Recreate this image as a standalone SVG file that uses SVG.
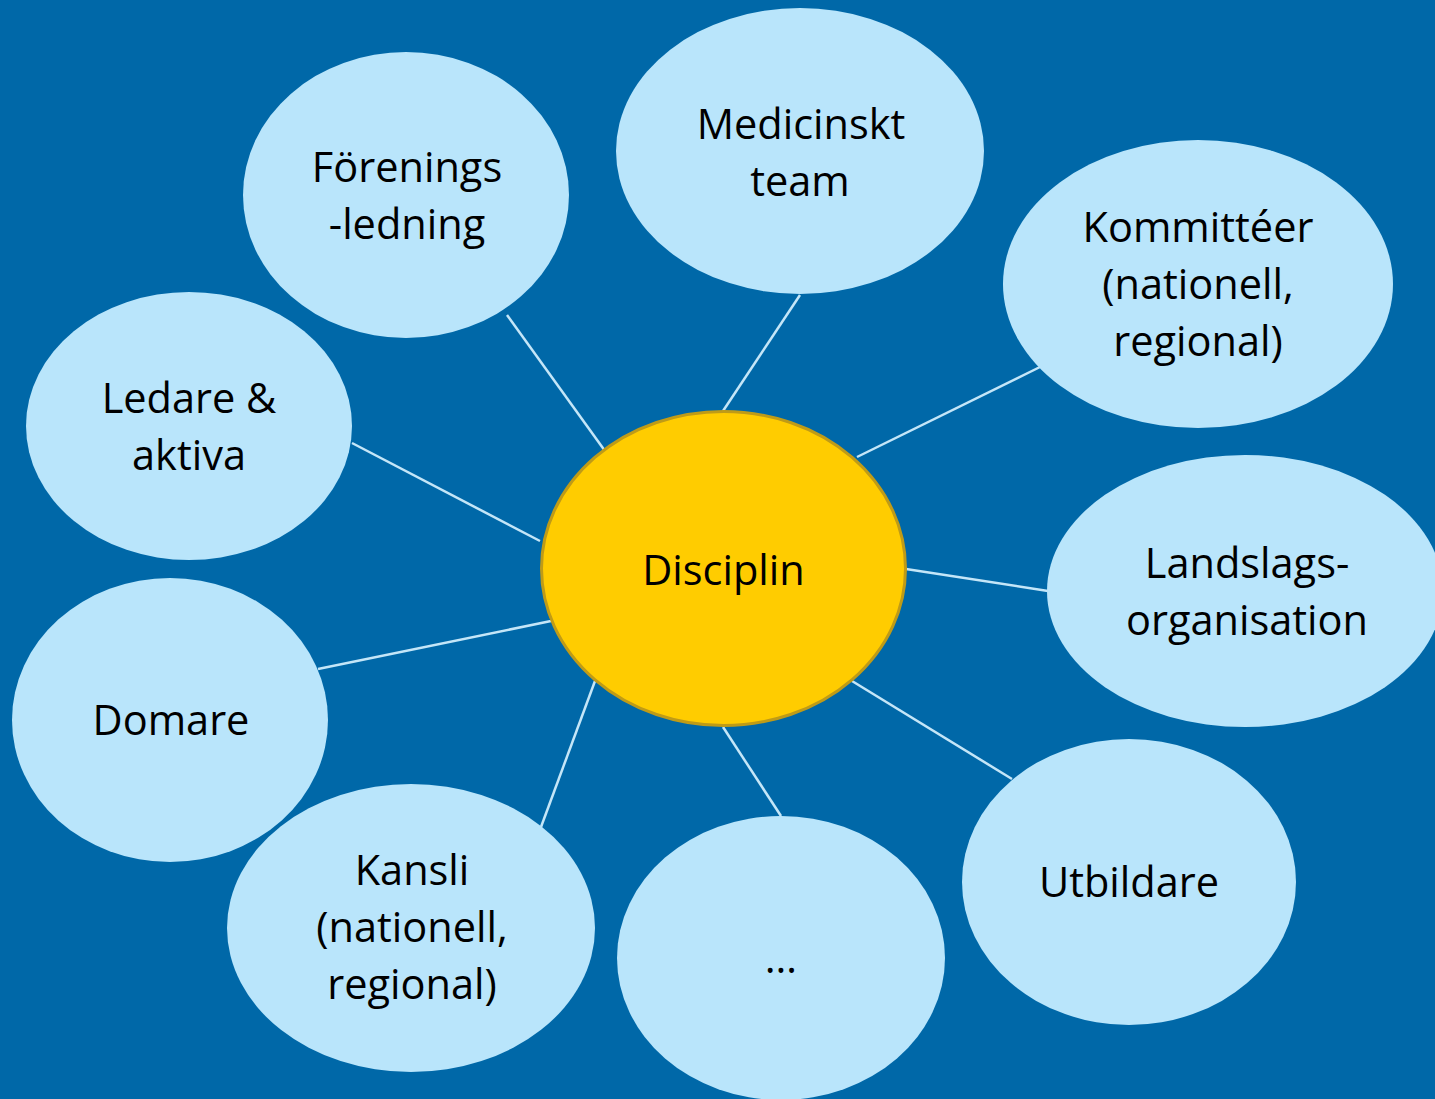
<svg xmlns="http://www.w3.org/2000/svg" width="1435" height="1099" viewBox="0 0 1435 1099">
<style>
.bg{fill:#0068A8}
.n{fill:#B9E5FB}
.c{fill:#FFCC00;stroke:#BF9B17;stroke-width:3}
.e line{stroke:#C4E6F8;stroke-width:2.5}
text{font-family:"Open Sans","Noto Sans",sans-serif;font-size:41.5px;fill:#000;text-anchor:middle}
</style>
<rect class="bg" x="0" y="0" width="1435" height="1099"/>
<g id="connectors" class="e">
<line x1="507" y1="315" x2="605" y2="451"/>
<line x1="800" y1="295" x2="723" y2="411"/>
<line x1="1040" y1="367" x2="857" y2="457"/>
<line x1="352" y1="443" x2="540" y2="541"/>
<line x1="906" y1="569" x2="1048" y2="591"/>
<line x1="318" y1="669" x2="551" y2="621"/>
<line x1="541" y1="827" x2="595" y2="681"/>
<line x1="723" y1="727" x2="781" y2="816"/>
<line x1="852" y1="681" x2="1012" y2="779"/>
</g>
<g id="medicinskt">
<ellipse class="n" cx="800" cy="151" rx="184" ry="143"/>
<text x="801" y="139">Medicinskt</text>
<text x="800" y="196">team</text>
</g>
<g id="forenings">
<ellipse class="n" cx="406" cy="195" rx="163" ry="143"/>
<text x="407" y="182">Förenings</text>
<text x="407" y="239">-ledning</text>
</g>
<g id="kommitteer">
<ellipse class="n" cx="1198" cy="284" rx="195" ry="144"/>
<text x="1198" y="242">Kommittéer</text>
<text x="1198" y="299">(nationell,</text>
<text x="1198" y="356">regional)</text>
</g>
<g id="ledare">
<ellipse class="n" cx="189" cy="426" rx="163" ry="134"/>
<text x="189" y="413">Ledare &amp;</text>
<text x="189" y="470">aktiva</text>
</g>
<g id="landslag">
<ellipse class="n" cx="1245" cy="591" rx="198" ry="136"/>
<text x="1247" y="578">Landslags-</text>
<text x="1247" y="635">organisation</text>
</g>
<g id="domare">
<ellipse class="n" cx="170" cy="720" rx="158" ry="142"/>
<text x="171" y="735">Domare</text>
</g>
<g id="kansli">
<ellipse class="n" cx="411" cy="928" rx="184" ry="144"/>
<text x="412" y="885">Kansli</text>
<text x="412" y="942">(nationell,</text>
<text x="412" y="999">regional)</text>
</g>
<g id="ovrigt">
<ellipse class="n" cx="781" cy="958" rx="164" ry="142"/>
<text x="781" y="973">…</text>
</g>
<g id="utbildare">
<ellipse class="n" cx="1129" cy="882" rx="167" ry="143"/>
<text x="1129" y="897">Utbildare</text>
</g>
<g id="disciplin">
<ellipse class="c" cx="723.5" cy="568.5" rx="182" ry="157"/>
<text x="723.5" y="585">Disciplin</text>
</g>
</svg>
